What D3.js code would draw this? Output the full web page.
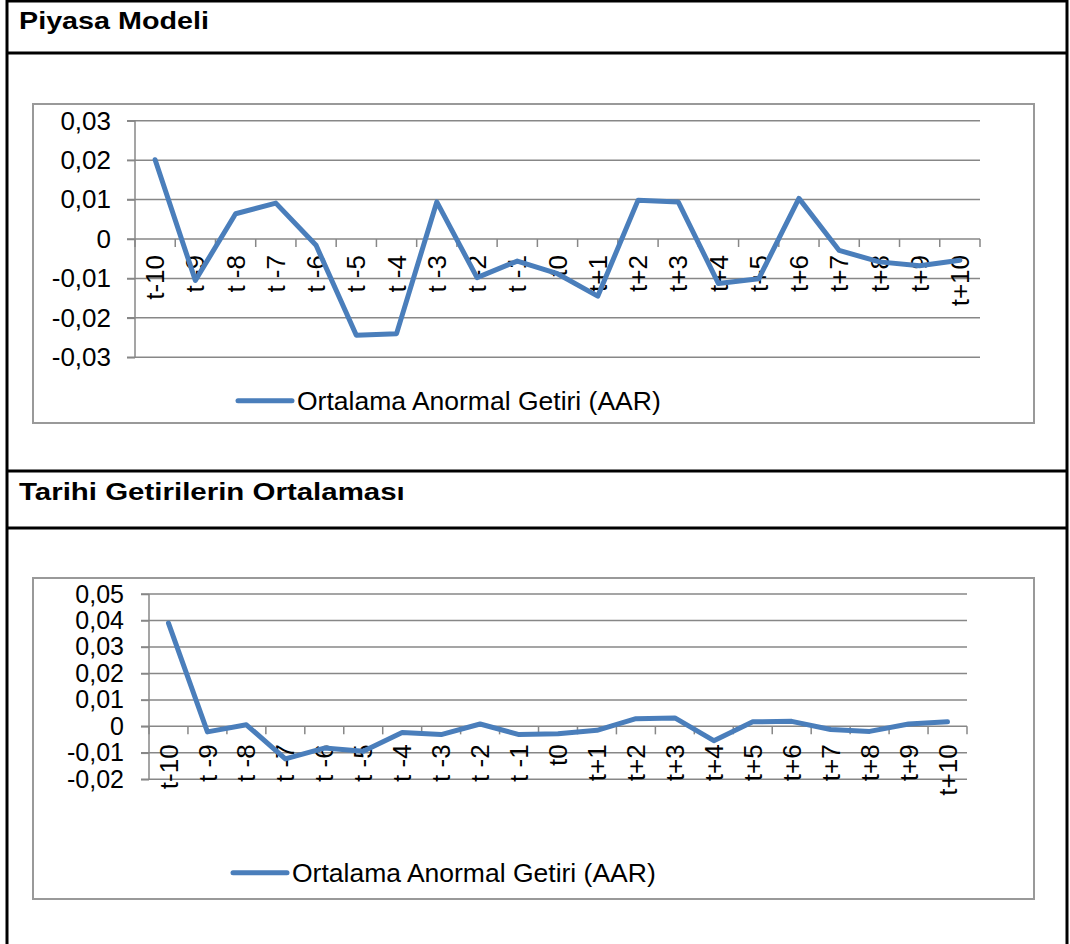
<!DOCTYPE html>
<html>
<head>
<meta charset="utf-8">
<script src="https://cdn.jsdelivr.net/npm/d3@7"></script>
<style>
  html, body { margin: 0; padding: 0; background: #fff; }
  svg { display: block; font-family: "Liberation Sans", Arial, sans-serif; }
</style>
</head>
<body>
<svg id="chart" width="1070" height="944"></svg>
<script>
// ---- data ----
const categories = ["t-10","t -9","t -8","t -7","t -6","t -5","t -4","t -3","t -2","t -1","t0",
  "t+1","t+2","t+3","t+4","t+5","t+6","t+7","t+8","t+9","t+10"];
const piyasaAAR = [0.0201,-0.0105,0.0064,0.0091,-0.0016,-0.0244,-0.0240,0.0094,-0.0098,-0.0056,-0.0088,
  -0.0145,0.0098,0.0094,-0.0113,-0.0101,0.0103,-0.0029,-0.0058,-0.0068,-0.0054];
const tarihiAAR = [0.0390,-0.0021,0.0006,-0.0123,-0.0082,-0.0094,-0.0023,-0.0031,0.0009,-0.0031,-0.0028,
  -0.0015,0.0029,0.0032,-0.0054,0.0017,0.0019,-0.0012,-0.0019,0.0009,0.0017];
const piyasaTicks = [-0.03,-0.02,-0.01,0,0.01,0.02,0.03];
const tarihiTicks = [-0.02,-0.01,0,0.01,0.02,0.03,0.04,0.05];
const sectionTitles = ["Piyasa Modeli","Tarihi Getirilerin Ortalaması"];
const seriesName = "Ortalama Anormal Getiri (AAR)";

const svg = d3.select("#chart");
const loc = d3.formatLocale({decimal: ",", thousands: ".", grouping: [3], currency: ["", ""], minus: "-"});
const f2 = loc.format(".2f");
const fmt = v => Math.abs(v) < 1e-12 ? "0" : f2(v);
const lineColor = "#4A7EBB";
const gridColor = "#878787";

// ---- outer table frame ----
const frame = svg.append("g").attr("stroke", "#000").attr("stroke-width", 3);
frame.append("line").attr("x1", 7).attr("x2", 7).attr("y1", 0).attr("y2", 944);
frame.append("line").attr("x1", 1067).attr("x2", 1067).attr("y1", 0).attr("y2", 944);
[1, 53, 471, 528].forEach(y => frame.append("line").attr("x1", 6).attr("x2", 1068).attr("y1", y).attr("y2", y));

// section titles (horizontally stretched bold text, width fitted to reference)
function title(txt, x, y, width) {
  const t = svg.append("text").attr("x", 0).attr("y", 0).attr("font-weight", "bold")
    .attr("font-size", 23.5).text(txt);
  const w = t.node().getComputedTextLength();
  t.attr("transform", `translate(${x},${y}) scale(${width / w},1)`);
}
title(sectionTitles[0], 19, 28.5, 190);
title(sectionTitles[1], 19, 499.5, 386);

function drawChart(cfg) {
  const g = svg.append("g");
  g.append("rect").attr("x", cfg.box[0]).attr("y", cfg.box[1]).attr("width", cfg.box[2]).attr("height", cfg.box[3])
    .attr("fill", "#fff").attr("stroke", "#999").attr("stroke-width", 2);

  const x = d3.scaleBand().domain(categories).range([cfg.x0, cfg.x1]);
  const y = d3.scaleLinear().domain(cfg.domain).range([cfg.yBottom, cfg.yTop]);

  // gridlines
  g.append("g").selectAll("line").data(cfg.ticks).join("line")
    .attr("x1", cfg.x0 - 8).attr("x2", cfg.x1)
    .attr("y1", d => y(d)).attr("y2", d => y(d))
    .attr("stroke", gridColor).attr("stroke-width", 1.5);

  // y axis
  const ya = g.append("g").attr("transform", `translate(${cfg.x0},0)`)
    .call(d3.axisLeft(y).tickValues(cfg.ticks).tickFormat(fmt).tickSize(8).tickPadding(cfg.yPad));
  ya.select(".domain").attr("stroke", gridColor).attr("stroke-width", 1.5).attr("d", `M0,${cfg.yBottom}V${cfg.yTop}`);
  ya.selectAll(".tick line").attr("stroke", gridColor).attr("stroke-width", 1.5);
  ya.selectAll(".tick text").attr("font-size", cfg.yFont).attr("fill", "#000")
    .attr("font-family", "\"Liberation Sans\", Arial, sans-serif");

  // category axis at zero
  const y0 = y(0);
  const bounds = categories.map(c => x(c)).concat([cfg.x1]);
  g.append("g").selectAll("line").data(bounds).join("line")
    .attr("x1", d => d).attr("x2", d => d).attr("y1", y0).attr("y2", y0 + 8)
    .attr("stroke", gridColor).attr("stroke-width", 1.5);
  g.append("g").selectAll("text").data(categories).join("text")
    .attr("transform", d => `translate(${x(d) + x.bandwidth() / 2},${y0 + cfg.labOff}) rotate(-90)`)
    .attr("text-anchor", "end").attr("dy", "0.35em").attr("font-size", 26).attr("fill", "#000")
    .text(d => d);

  // series line
  const line = d3.line().x((d, i) => x(categories[i]) + x.bandwidth() / 2).y(d => y(d));
  g.append("path").datum(cfg.values).attr("d", line).attr("fill", "none")
    .attr("stroke", lineColor).attr("stroke-width", 5).attr("stroke-linejoin", "round").attr("stroke-linecap", "round");

  // legend
  g.append("line").attr("x1", cfg.legend[0]).attr("x2", cfg.legend[0] + 54).attr("y1", cfg.legend[1]).attr("y2", cfg.legend[1])
    .attr("stroke", lineColor).attr("stroke-width", 5).attr("stroke-linecap", "round");
  g.append("text").attr("x", cfg.legend[0] + 59).attr("y", cfg.legend[1]).attr("dy", "0.35em")
    .attr("font-size", 26.5).attr("fill", "#000").text(seriesName);
}

drawChart({
  box: [33, 104, 1001, 319],
  x0: 135, x1: 980, yTop: 120.7, yBottom: 357.3,
  domain: [-0.03, 0.03], ticks: piyasaTicks, values: piyasaAAR,
  yPad: 16, yFont: 26, labOff: 16, legend: [238, 400.7]
});
drawChart({
  box: [33, 578, 1001, 321],
  x0: 149, x1: 967, yTop: 594, yBottom: 779.3,
  domain: [-0.02, 0.05], ticks: tarihiTicks, values: tarihiAAR,
  yPad: 17, yFont: 25, labOff: 18, legend: [233, 872.7]
});
</script>
</body>
</html>
